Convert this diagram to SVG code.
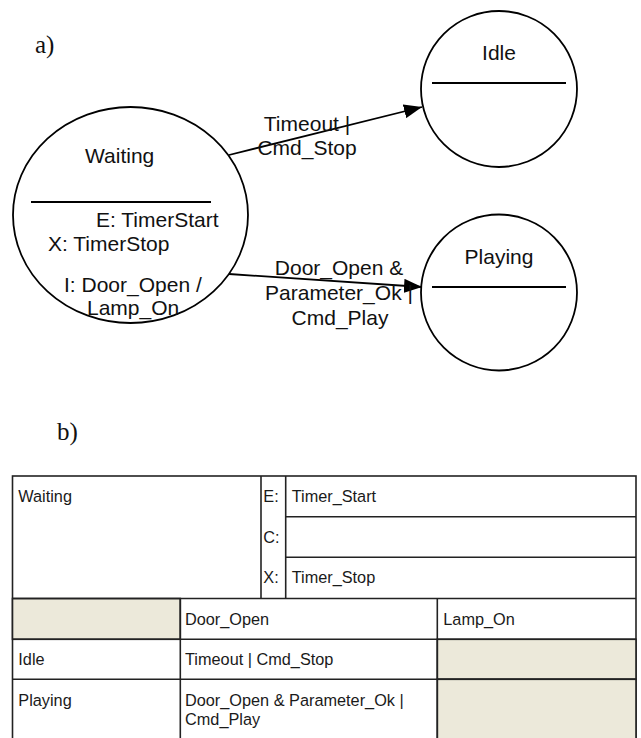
<svg xmlns="http://www.w3.org/2000/svg" width="641" height="738" viewBox="0 0 641 738">
<defs>
<marker id="arr" viewBox="0 0 18 14" refX="18" refY="7" markerWidth="18" markerHeight="14" markerUnits="userSpaceOnUse" orient="auto">
<path d="M0,0 L18,7 L0,14 Z" fill="#000"/>
</marker>
<style>
.st{fill:#fff;stroke:#000;stroke-width:1.8}
.sep{stroke:#000;stroke-width:2}
.t{font-family:"Liberation Sans",Arial,sans-serif;font-size:21px;fill:#111}
.c{text-anchor:middle}
.lbl{font-family:"Liberation Serif","Times New Roman",serif;font-size:25px;fill:#111}
.edge{stroke:#000;stroke-width:1.8;fill:none}
.cell{fill:#fff;stroke:#222;stroke-width:1.6}
.bg{fill:#ece9da;stroke:#222;stroke-width:1.6}
.tl{stroke:#222;stroke-width:1.6}
.tt{font-family:"Liberation Sans",Arial,sans-serif;font-size:16.3px;fill:#1a1a1a}
</style>
</defs>
<rect width="641" height="738" fill="#fff"/>
<text class="lbl" x="35" y="53">a)</text>
<text class="lbl" x="57" y="440">b)</text>

<g id="connectors">
<line class="edge" x1="229" y1="155" x2="422" y2="107" marker-end="url(#arr)"/>
<line class="edge" x1="229" y1="274" x2="422" y2="287" marker-end="url(#arr)"/>
</g>

<g id="node-waiting">
<ellipse class="st" cx="130.5" cy="215" rx="117.5" ry="108"/>
<line class="sep" x1="31" y1="202" x2="211" y2="202"/>
<text class="t" x="85" y="163">Waiting</text>
<text class="t" x="96" y="227">E: TimerStart</text>
<text class="t" x="48" y="251">X: TimerStop</text>
<text class="t" x="64" y="292">I: Door_Open /</text>
<text class="t" x="87" y="315">Lamp_On</text>
</g>

<g id="node-idle">
<ellipse class="st" cx="499" cy="89" rx="78" ry="78"/>
<line class="sep" x1="432" y1="83" x2="566" y2="83"/>
<text class="t c" x="499" y="60">Idle</text>
</g>

<g id="node-playing">
<ellipse class="st" cx="499" cy="292.5" rx="78" ry="78"/>
<line class="sep" x1="432" y1="287" x2="566" y2="287"/>
<text class="t c" x="499" y="264">Playing</text>
</g>

<g id="edge-labels">
<text class="t c" x="307" y="131">Timeout |</text>
<text class="t c" x="307" y="155">Cmd_Stop</text>
<text class="t c" x="339" y="275">Door_Open &amp;</text>
<text class="t c" x="339" y="300">Parameter_Ok |</text>
<text class="t c" x="340" y="325">Cmd_Play</text>
</g>

<g id="table">
<rect class="cell" x="12.5" y="476" width="623.5" height="270"/>
<rect class="bg" x="12.5" y="598.5" width="167.8" height="40.8"/>
<rect class="bg" x="437.3" y="639.3" width="198.7" height="40"/>
<rect class="bg" x="437.3" y="679.3" width="198.7" height="70"/>
<line class="tl" x1="261" y1="476" x2="261" y2="598.5"/>
<line class="tl" x1="285.7" y1="476" x2="285.7" y2="598.5"/>
<line class="tl" x1="285.7" y1="516.7" x2="636" y2="516.7"/>
<line class="tl" x1="285.7" y1="557.3" x2="636" y2="557.3"/>
<line class="tl" x1="12.5" y1="598.5" x2="636" y2="598.5"/>
<line class="tl" x1="12.5" y1="639.3" x2="636" y2="639.3"/>
<line class="tl" x1="12.5" y1="679.3" x2="636" y2="679.3"/>
<line class="tl" x1="180.3" y1="598.5" x2="180.3" y2="746"/>
<line class="tl" x1="437.3" y1="598.5" x2="437.3" y2="746"/>
<text class="tt" x="18.3" y="501.7">Waiting</text>
<text class="tt" x="263.3" y="501.7">E:</text>
<text class="tt" x="291.7" y="501.7">Timer_Start</text>
<text class="tt" x="263.3" y="542.7">C:</text>
<text class="tt" x="263.3" y="582.7">X:</text>
<text class="tt" x="291.7" y="582.7">Timer_Stop</text>
<text class="tt" x="185" y="625">Door_Open</text>
<text class="tt" x="443.3" y="625">Lamp_On</text>
<text class="tt" x="18.3" y="665">Idle</text>
<text class="tt" x="185" y="665">Timeout | Cmd_Stop</text>
<text class="tt" x="18.3" y="705.7">Playing</text>
<text class="tt" x="185" y="705.7">Door_Open &amp; Parameter_Ok |</text>
<text class="tt" x="185" y="725">Cmd_Play</text>
</g>
</svg>
